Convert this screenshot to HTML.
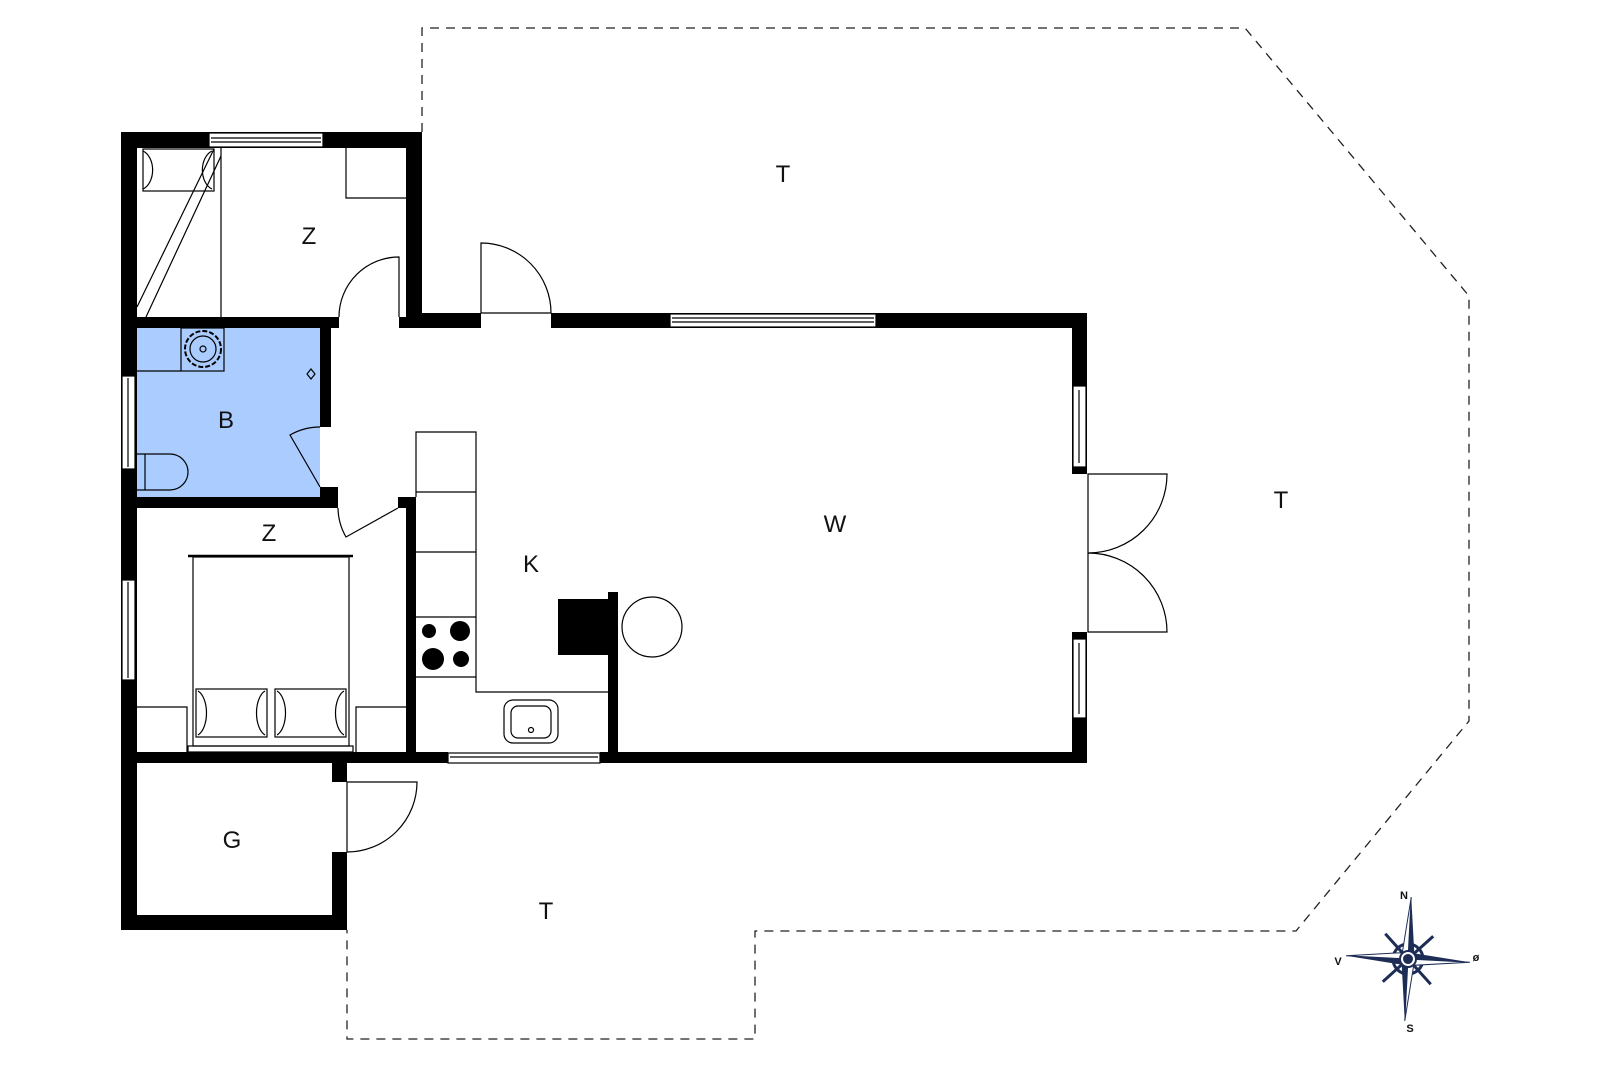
<!DOCTYPE html>
<html><head><meta charset="utf-8"><style>html,body{margin:0;padding:0;background:#fff}svg{display:block}text{font-family:"Liberation Sans",sans-serif;font-size:24px;fill:#111;text-anchor:middle}</style></head><body>
<svg width="1600" height="1067" viewBox="0 0 1600 1067" xmlns="http://www.w3.org/2000/svg">
<polyline points="422,132 422,28 1245,28 1469,296 1469,721 1296,931 755,931 755,1039 347,1039 347,930" fill="none" stroke="#222" stroke-width="1.3" stroke-dasharray="9,7"/>
<rect x="137" y="328" width="183" height="169" fill="#aaccff"/>
<g fill="#000">
<rect x="121" y="132" width="16" height="798"/>
<rect x="121" y="132" width="301" height="16"/>
<rect x="406" y="132" width="16" height="196"/>
<rect x="406" y="313" width="75" height="15"/>
<rect x="551" y="313" width="536" height="15"/>
<rect x="1072" y="313" width="15" height="161"/>
<rect x="1072" y="632" width="15" height="131"/>
<rect x="121" y="317" width="218" height="11"/>
<rect x="399" y="317" width="23" height="11"/>
<rect x="320" y="328" width="11" height="99"/>
<rect x="320" y="487" width="18" height="21"/>
<rect x="121" y="497" width="217" height="11"/>
<rect x="398" y="497" width="18" height="11"/>
<rect x="406" y="497" width="10" height="266"/>
<rect x="121" y="752" width="327" height="11"/>
<rect x="600" y="752" width="487" height="11"/>
<rect x="608" y="592" width="10" height="165"/>
<rect x="558" y="599" width="50" height="56"/>
<rect x="332" y="763" width="15" height="19"/>
<rect x="332" y="852" width="15" height="78"/>
<rect x="121" y="915" width="226" height="15"/>
</g>
<g fill="#fff" stroke="#000" stroke-width="1.2">
<rect x="209" y="133" width="114" height="14"/><line x1="211" y1="138" x2="321" y2="138"/><line x1="211" y1="142" x2="321" y2="142"/>
<rect x="670" y="314" width="206" height="13"/><line x1="672" y1="318" x2="874" y2="318"/><line x1="672" y1="322" x2="874" y2="322"/>
<rect x="448" y="753" width="152" height="10"/><line x1="450" y1="757" x2="598" y2="757"/>
<rect x="122" y="376" width="13" height="93"/><line x1="128" y1="378" x2="128" y2="467"/>
<rect x="122" y="580" width="13" height="100"/><line x1="128" y1="582" x2="128" y2="678"/>
<rect x="1073" y="386" width="13" height="81"/><line x1="1079" y1="390" x2="1079" y2="463"/>
<rect x="1073" y="639" width="13" height="79"/><line x1="1079" y1="643" x2="1079" y2="714"/>
</g>
<g fill="none" stroke="#000" stroke-width="1.2">
<rect x="143" y="149" width="71" height="42"/>
<path d="M143,151 A14,20 0 0 1 143,189"/><path d="M212,151 A14,20 0 0 0 212,189"/>
<line x1="221" y1="148" x2="221" y2="317"/>
<line x1="137" y1="307" x2="214" y2="149"/><line x1="146" y1="317" x2="221" y2="156"/>
<polyline points="346,148 346,198 406,198"/>
<path d="M399,317 L399,257 A60,60 0 0 0 339,317"/>
<path d="M481,313 L481,243 A70,70 0 0 1 551,313"/>
<line x1="481" y1="313" x2="551" y2="313"/>
<path d="M320,487 L290,435 A60,60 0 0 1 320,427"/>
<path d="M398,508 L346,537 A60,60 0 0 1 338,508"/>
<path d="M347,782 L417,782 A70,70 0 0 1 347,852 Z"/>
<path d="M1088,474 L1167,474 A79,79 0 0 1 1088,553 A79,79 0 0 1 1167,632 L1088,632 Z"/>
<polyline points="137,371 181,371"/>
<rect x="181" y="328" width="43" height="43"/>
<circle cx="203" cy="349" r="18" stroke-dasharray="5,2" stroke-width="2"/><circle cx="203" cy="349" r="13"/><circle cx="203" cy="349" r="3"/>
<path d="M137,454 L170,454 A18,18 0 0 1 170,490 L137,490"/><line x1="145" y1="454" x2="145" y2="490"/>
<path d="M311,369 L315,374 L311,379 L307,374 Z"/>
<rect x="193" y="557" width="156" height="189"/>
<line x1="188" y1="556" x2="353" y2="556" stroke-width="2.5"/>
<rect x="188" y="746" width="165" height="6"/>
<rect x="196" y="689" width="71" height="48"/><rect x="275" y="689" width="71" height="48"/>
<path d="M198,691 A12,23 0 0 1 198,735"/><path d="M265,691 A12,23 0 0 0 265,735"/>
<path d="M277,691 A12,23 0 0 1 277,735"/><path d="M344,691 A12,23 0 0 0 344,735"/>
<polyline points="137,707 187,707 187,752"/><polyline points="406,707 356,707 356,752"/>
<polyline points="416,497 416,432 476,432 476,692 608,692"/>
<line x1="416" y1="492" x2="476" y2="492"/><line x1="416" y1="552" x2="476" y2="552"/>
<line x1="416" y1="617" x2="476" y2="617"/><line x1="416" y1="677" x2="476" y2="677"/>
<rect x="504" y="700" width="54" height="43" rx="9"/><rect x="511" y="706" width="40" height="32" rx="7"/><circle cx="531" cy="730" r="2.5"/>
<circle cx="652" cy="627" r="30"/>
</g>
<g fill="#000"><circle cx="429" cy="631" r="7"/><circle cx="460" cy="631" r="10"/><circle cx="433" cy="659" r="11"/><circle cx="461" cy="659" r="8"/></g>
<text x="783" y="182">T</text><text x="309" y="244">Z</text><text x="226" y="428">B</text>
<text x="269" y="541">Z</text><text x="531" y="572">K</text><text x="835" y="532">W</text>
<text x="1281" y="508">T</text><text x="232" y="848">G</text><text x="546" y="919">T</text>
<g transform="translate(1408,959) rotate(3)">
<g stroke="#1d2d55" stroke-width="3"><line x1="-24" y1="-24" x2="24" y2="24"/><line x1="24" y1="-24" x2="-24" y2="24"/></g>
<circle r="15" fill="none" stroke="#1d2d55" stroke-width="3"/>
<path d="M0,-62 L6,-6 L0,0 Z" fill="#1d2d55"/><path d="M0,-62 L-6,-6 L0,0 Z" fill="#fff" stroke="#1d2d55"/>
<path d="M0,62 L-6,6 L0,0 Z" fill="#1d2d55"/><path d="M0,62 L6,6 L0,0 Z" fill="#fff" stroke="#1d2d55"/>
<path d="M-62,0 L-6,6 L0,0 Z" fill="#1d2d55"/><path d="M-62,0 L-6,-6 L0,0 Z" fill="#fff" stroke="#1d2d55"/>
<path d="M62,0 L6,-6 L0,0 Z" fill="#1d2d55"/><path d="M62,0 L6,6 L0,0 Z" fill="#fff" stroke="#1d2d55"/>
<circle r="8" fill="#fff" stroke="#1d2d55" stroke-width="2"/><circle r="5" fill="#1d2d55"/>
</g>
<g style="font-size:11px;font-weight:bold"><text x="1404" y="899" style="font-size:11px">N</text><text x="1338" y="965" style="font-size:11px">V</text><text x="1476" y="961" style="font-size:11px">ø</text><text x="1410" y="1032" style="font-size:11px">S</text></g>
</svg>
</body></html>
